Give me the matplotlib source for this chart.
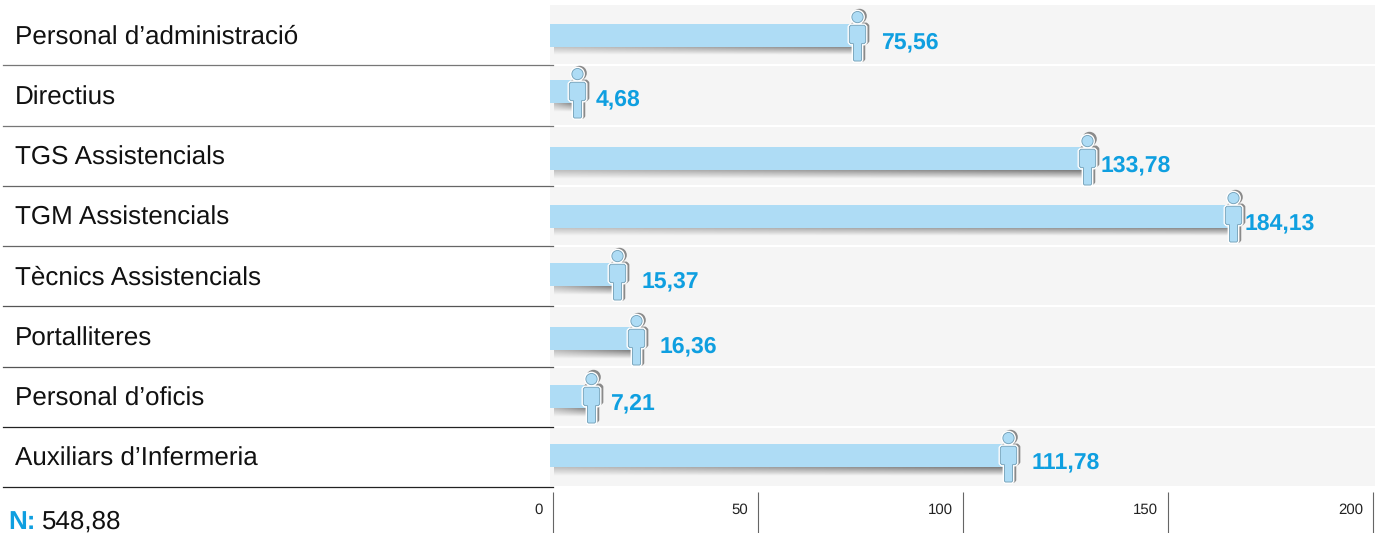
import numpy as np
import matplotlib
matplotlib.use('Agg')
import matplotlib.pyplot as plt
from matplotlib.path import Path
from matplotlib.transforms import blended_transform_factory, ScaledTranslation

plt.rcParams['font.family'] = ['Liberation Sans', 'DejaVu Sans']
plt.rcParams['text.hinting'] = 'no_hinting'
plt.rcParams['text.hinting_factor'] = 1

# data
categories = ['Personal d\u2019administració', 'Directius', 'TGS Assistencials',
              'TGM Assistencials', 'Tècnics Assistencials', 'Portalliteres',
              'Personal d\u2019oficis', 'Auxiliars d\u2019Infermeria']
value_labels = ['75,56', '4,68', '133,78', '184,13', '15,37', '16,36', '7,21', '111,78']
# where the bars really end on the axis (not the same as the printed numbers)
bar_lengths = [74.1, 5.85, 130.2, 165.9, 15.6, 20.2, 9.3, 111.0]
axis_ticks = [0, 50, 100, 150, 200]
total_label = '548,88'

# plotting setup
W, H = 1384, 533
blue_text = '#0f9fe0'
bar_blue = '#aedcf5'
row_nudge = [0, -3.4, 3, 0.6, -1.6, 2.6, 0, -1]      # px, bars are not quite centred
label_gap = [24, 19, 14, 11, 25, 24, 19, 23]         # px from icon centre to number

fig = plt.figure(figsize=(W / 100, H / 100), dpi=100)
ax = fig.add_axes([550 / W, 1 - 487 / H, 825 / W, 482 / H])
ax.set_facecolor('#f5f5f5')
for s in ax.spines.values():
    s.set_visible(False)
ax.set_xticks([])
ax.set_yticks([])

px_x = 1 / 4.1     # axis units per pixel
px_y = 1 / 60.25   # rows per pixel
xmin, xmax = -3 * px_x, 822 * px_x
rows = np.arange(len(categories))
bar_y = rows + np.array(row_nudge) * px_y

# white gaps between rows, rules on the left
left_side = blended_transform_factory(fig.transFigure, ax.transData)
rule_colors = ['#777777', '#777777', '#666666', '#666666', '#555555', '#555555', '#222222', '#222222']
for i in rows:
    ax.axhline(i + 0.5, color='white', lw=1.5, zorder=1)
    ax.plot([3 / W, 553 / W], [i + 0.5, i + 0.5], color=rule_colors[i], lw=0.9,
            transform=left_side, clip_on=False, zorder=1)
    ax.text(15 / W, i + 9 * px_y, categories[i], transform=left_side, ha='left', va='baseline',
            fontsize=19, color='#111111')

# bar shadows, fading downwards and to the left
shadow = np.zeros((16, 64, 4))
shadow[..., :3] = 0.3
fade_y = np.linspace(0.72, 0, 16)[:, None]
fade_x = np.linspace(0.45, 1, 64)[None, :]
shadow[..., 3] = fade_y * fade_x
for y, length in zip(bar_y, bar_lengths):
    ax.imshow(shadow, extent=[xmin + 4 * px_x, length, y + 20 * px_y, y + 11 * px_y],
              aspect='auto', interpolation='bilinear', zorder=2)

ax.barh(bar_y, np.array(bar_lengths) - xmin, left=xmin, height=23 * px_y,
        color=bar_blue, edgecolor='none', zorder=3)

# person icon, built once and used as a scatter marker
head = Path.circle((0, 19), 5.5)
body = Path([(-6.5, 11), (6.5, 11), (8, 9.5), (8, -5.5), (6.5, -7), (4, -7), (4, -23), (3, -24),
             (-3, -24), (-4, -23), (-4, -7), (-6.5, -7), (-8, -5.5), (-8, 9.5), (-6.5, 11)],
            closed=True)
person = Path.make_compound_path(head, body)
icon_size = 1300   # 50 px tall once the path is normalised by its 24.5 reach
shadow_shift = ax.transData + ScaledTranslation(1.3 / 72, 0.2 / 72, fig.dpi_scale_trans)
icon_shift = ax.transData + ScaledTranslation(0, -0.7 / 72, fig.dpi_scale_trans)
ax.scatter(bar_lengths, bar_y, marker=person, s=icon_size, color='#8a8a8a',
           edgecolor='#8a8a8a', linewidths=2.4, transform=shadow_shift, zorder=4, clip_on=False)
ax.scatter(bar_lengths, bar_y, marker=person, s=icon_size, color=bar_blue,
           edgecolor='white', linewidths=2.6, transform=icon_shift, zorder=5, clip_on=False)
ax.scatter(bar_lengths, bar_y, marker=person, s=icon_size, color=bar_blue,
           edgecolor='#6f9db5', linewidths=0.6, transform=icon_shift, zorder=6, clip_on=False)

# numbers next to the icons
for y, length, text, gap in zip(bar_y, bar_lengths, value_labels, label_gap):
    ax.annotate(text, (length, y), xytext=(gap * 0.72, -13 * 0.72),
                textcoords='offset points', ha='left', va='baseline',
                fontsize=16.7, fontweight='bold', color=blue_text, zorder=7)

ax.set_xlim(xmin, xmax)
ax.set_ylim(len(categories) - 0.5, -0.5)

# axis strip under the panel
ax_ticks = fig.add_axes([550 / W, 0, 825 / W, 41 / H])
ax_ticks.set_xlim(xmin, xmax)
ax_ticks.set_ylim(0, 1)
ax_ticks.axis('off')
ax_ticks.vlines(axis_ticks, 0, 1, color='#666666', lw=0.8)
for t in axis_ticks:
    ax_ticks.annotate(str(t), (t, 0.57), xytext=(-10 * 0.72, 0), textcoords='offset points',
                      ha='right', va='center', fontsize=11, color='#222222')

# total
fig.text(8 / W, 1 - 529 / H, 'N:', fontsize=19, fontweight='bold', color=blue_text, va='baseline')
fig.text(42 / W, 1 - 529 / H, total_label, fontsize=19, color='#111111', va='baseline')

fig.savefig('out.png', dpi=100)
